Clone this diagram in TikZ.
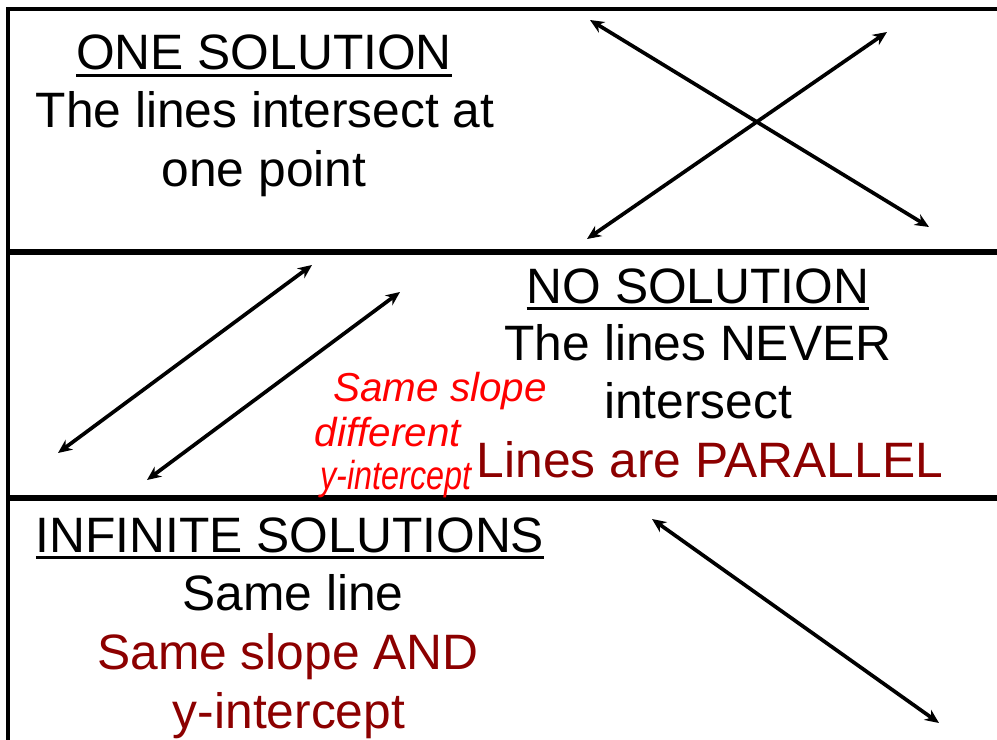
\documentclass[tikz,border=0pt]{standalone}
\usepackage{fontspec}
\setmainfont{Liberation Sans}
\usetikzlibrary{arrows.meta}
\definecolor{parred}{RGB}{140,0,0}
\newcommand{\ulhead}[1]{\vtop{\hbox{#1}\kern2pt\hrule height 1.7pt}}

\begin{document}
\begin{tikzpicture}[
  x=0.02cm,y=-0.02cm,
  >={Stealth[length=8pt,width=7pt]},
  frame/.style={line width=2.2pt},
  divider/.style={line width=3pt},
  sol/.style={<->,line width=2.1pt},
  txt/.style={anchor=base,inner sep=0pt,font=\fontsize{28.3}{33}\selectfont},
  note/.style={txt,text=parred},
  hand/.style={anchor=base,inner sep=0pt,text=red,font=\fontsize{23}{26}\selectfont\itshape}]

  \useasboundingbox (0,0) rectangle (997,740);

  % frame and dividers
  \draw[frame] (8,740) -- (8,9) -- (1000,9);
  \draw[divider] (8,252) -- (1000,252);
  \draw[divider] (8,498) -- (1000,498);

  % ================= one solution =================
  \node[txt] (one) at (264,70) {\ulhead{ONE SOLUTION}};
  \node[txt] (one2) at (265,128) {The lines intersect at};
  \node[txt] (one3) at (264,186) {one point};

  \coordinate (xa) at (590,20);
  \coordinate (xb) at (929,227);
  \coordinate (ya) at (587,239);
  \coordinate (yb) at (887,32);
  \draw[sol] (xa) -- (xb);
  \draw[sol] (ya) -- (yb);

  % ================= no solution =================
  \node[txt] (none) at (698,303) {\ulhead{NO SOLUTION}};
  \node[txt] (none2) at (698,360) {The lines NEVER};
  \node[txt] (none3) at (698,418) {intersect};
  \node[note] (par) at (710,477) {Lines are PARALLEL};

  \coordinate (pa) at (58,453);
  \coordinate (pb) at (312,265);
  \coordinate (qa) at (147,480);
  \coordinate (qb) at (400,292);
  \draw[sol] (pa) -- (pb);
  \draw[sol] (qa) -- (qb);

  % handwritten remark
  \node[hand] (h1) at (440,401) {Same slope};
  \node[hand] (h2) at (388,446) {different};
  \node[hand] (h3) at (396,489) {\scalebox{0.8}[1]{y-intercept}};

  % ================= infinite solutions =================
  \node[txt] (inf) at (290,552) {\ulhead{INFINITE SOLUTIONS}};
  \node[txt] (inf2) at (293,610) {Same line};
  \node[note] (inf3) at (288,669) {Same slope AND};
  \node[note] (inf4) at (289,728) {y-intercept};

  \coordinate (ia) at (652,519);
  \coordinate (ib) at (939,723);
  \draw[sol] (ia) -- (ib);
\end{tikzpicture}
\end{document}
